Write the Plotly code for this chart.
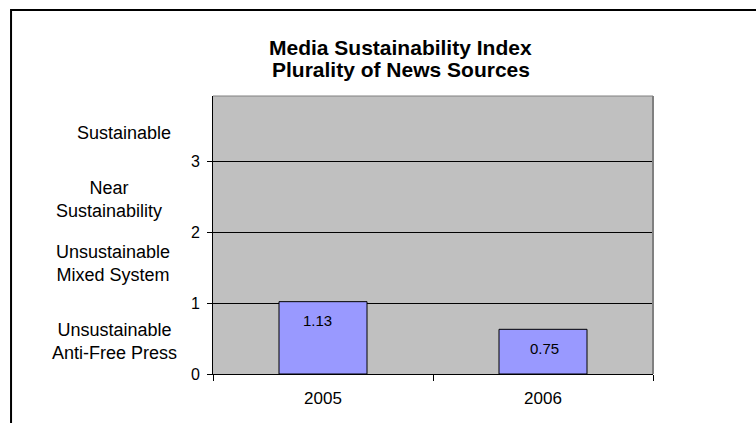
import plotly.graph_objects as go

# ---- data ----
years = ["2005", "2006"]
bar_heights = [1.02, 0.63]          # drawn bar heights (axis units)
value_labels = ["1.13", "0.75"]     # printed data labels
y_ticks = [0, 1, 2, 3]
zone_labels = ["Sustainable", "Near<br>Sustainability",
               "Unsustainable<br>Mixed System", "Unsustainable<br>Anti-Free Press"]
zone_levels = [3.40, 2.46, 1.56, 0.46]
title_lines = ["Media Sustainability Index", "Plurality of News Sources"]

FONT = "Liberation Sans, Arial, sans-serif"

fig = go.Figure()
fig.add_trace(go.Bar(
    x=years, y=bar_heights, width=0.4,
    marker=dict(color="#9999ff", line=dict(color="black", width=1)),
    hoverinfo="skip", showlegend=False,
))

# data labels inside the bars near the top
for i, (h, lab) in enumerate(zip(bar_heights, value_labels)):
    fig.add_annotation(x=i, y=h, text=lab, showarrow=False, xref="x", yref="y",
                       yanchor="middle", yshift=-19, xshift=-6 if i == 0 else 1,
                       font=dict(family=FONT, size=15, color="black"))

# zone labels on the left
zone_x = [-0.202, -0.236, -0.227, -0.223]
for txt, lv, zx in zip(zone_labels, zone_levels, zone_x):
    fig.add_annotation(x=zx, y=lv, xref="paper", yref="y", text=txt, showarrow=False,
                       xanchor="center", yanchor="middle", align="center",
                       font=dict(family=FONT, size=18, color="black"))

# title (two lines)
for line, ty in zip(title_lines, [1.176, 1.097]):
    fig.add_annotation(x=0.427, y=ty, xref="paper", yref="paper",
                       text="<b>" + line + "</b>", showarrow=False,
                       xanchor="center", yanchor="middle",
                       font=dict(family=FONT, size=21, color="black"))

shapes = [
    # outer chart border (extends beyond the picture at right/bottom)
    dict(type="rect", xref="paper", yref="paper", x0=-0.459, x1=1.25, y0=-0.25, y1=1.309,
         line=dict(color="black", width=2), fillcolor="rgba(0,0,0,0)", layer="above"),
    # plot-area frame top and right
    dict(type="line", xref="paper", yref="paper", x0=0, x1=1, y0=1, y1=1,
         line=dict(color="#808080", width=1), layer="above"),
    dict(type="line", xref="paper", yref="paper", x0=1, x1=1, y0=0, y1=1,
         line=dict(color="#808080", width=2), layer="above"),
]

fig.update_layout(
    width=756, height=423,
    margin=dict(l=213, r=103, t=96, b=49, pad=0),
    paper_bgcolor="white", plot_bgcolor="#c0c0c0",
    shapes=shapes,
    font=dict(family=FONT, size=16, color="black"),
    xaxis=dict(type="category", range=[-0.5, 1.5], showline=True, linecolor="black",
               linewidth=1, ticks="outside", tickson="boundaries", ticklen=6,
               tickcolor="black", tickfont=dict(size=17), tickangle=0,
               showgrid=False, zeroline=False, automargin=False,
               ticklabelstandoff=9),
    yaxis=dict(range=[0, 3.92], tickvals=y_ticks, showline=True, linecolor="black",
               linewidth=1, ticks="outside", ticklen=5, tickcolor="black",
               showgrid=True, gridcolor="black", gridwidth=1, zeroline=False,
               tickfont=dict(size=16), ticklabelstandoff=4, automargin=False),
)

fig.write_html("out.html")
